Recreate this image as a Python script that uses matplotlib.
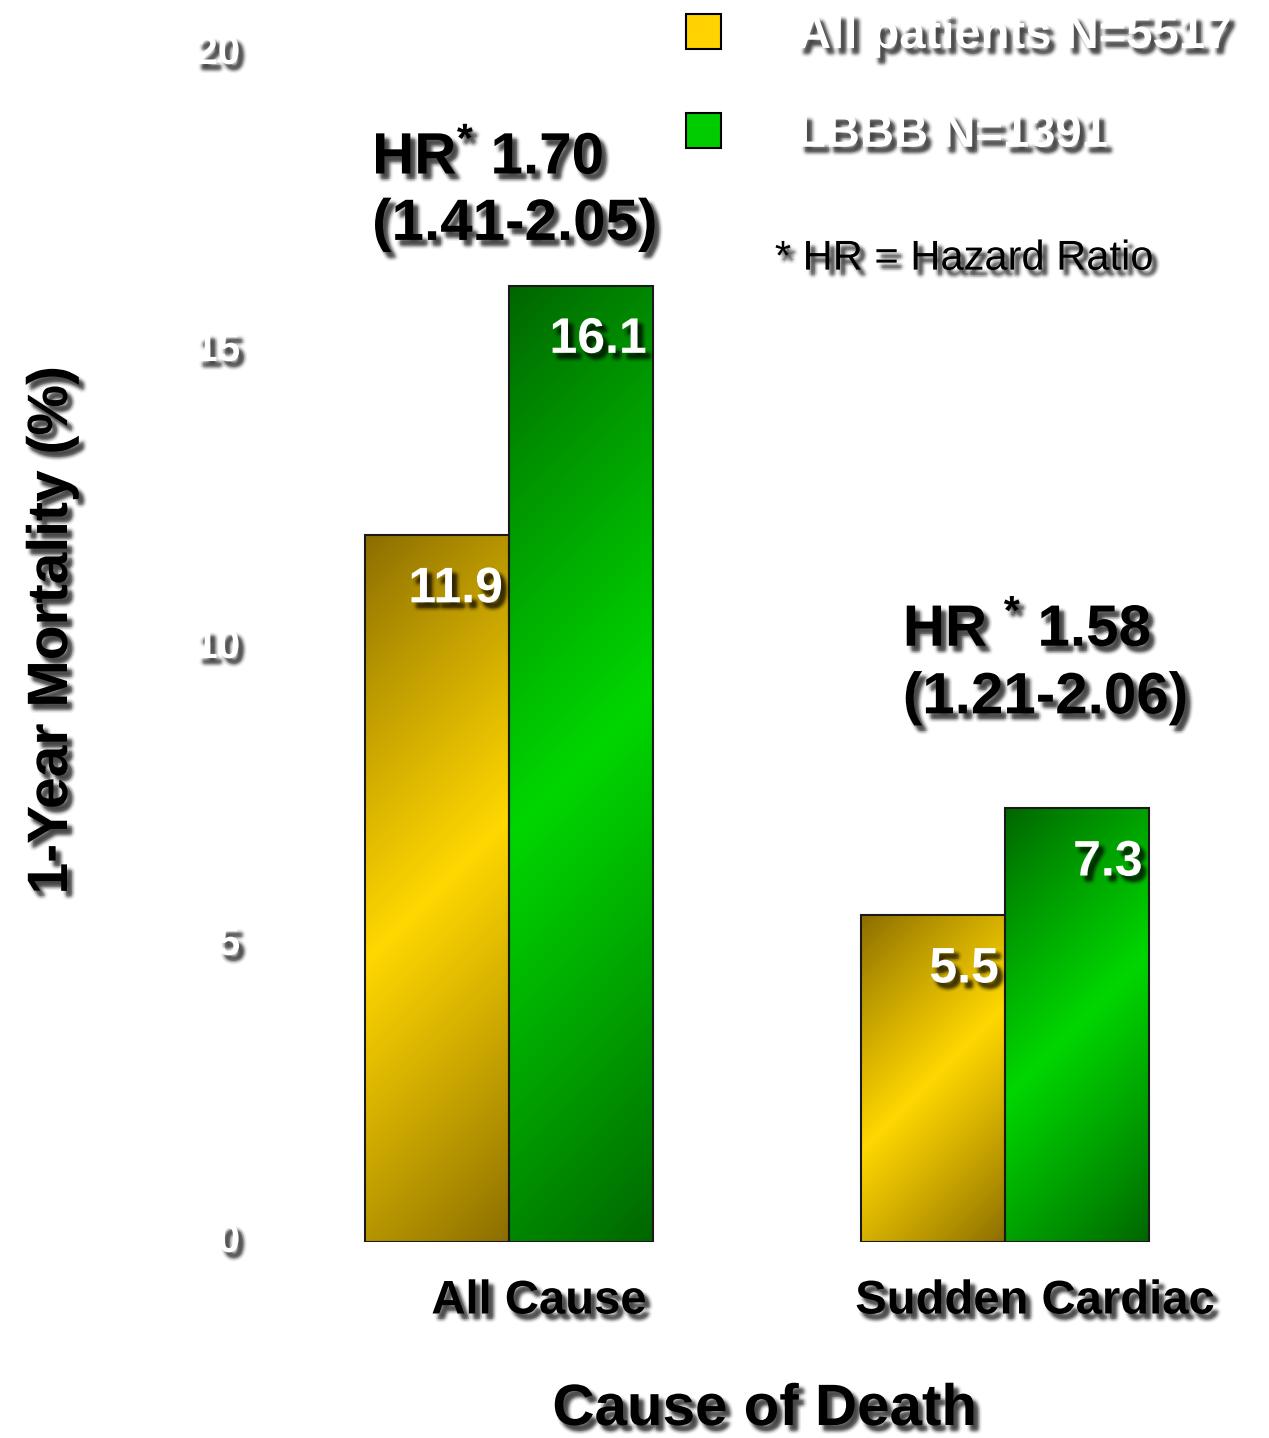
import numpy as np
import matplotlib
matplotlib.use("Agg")
import matplotlib.pyplot as plt
from matplotlib import patheffects as pe
from matplotlib.patches import Patch
from matplotlib.transforms import ScaledTranslation

# data
categories = ["All Cause", "Sudden Cardiac"]
all_patients = [11.9, 5.5]
lbbb = [16.1, 7.3]
series_labels = ["All patients N=5517", "LBBB N=1391"]
hr_line1 = ["HR$^{*}$ 1.70", "HR $^{*}$ 1.58"]
hr_line2 = ["(1.41-2.05)", "(1.21-2.06)"]
yticks = [0, 5, 10, 15, 20]

plt.rcParams["font.family"] = ["Liberation Sans", "DejaVu Sans"]
plt.rcParams["mathtext.fontset"] = "custom"
plt.rcParams["mathtext.rm"] = "Liberation Sans:bold"
plt.rcParams["mathtext.bf"] = "Liberation Sans:bold"
plt.rcParams["mathtext.it"] = "Liberation Sans:bold"


def shadow():
    # fake soft drop shadow: rings of faint offset copies plus a darker core
    fx = []
    cx, cy = 3.5, -4.0
    for r, n, a in [(2.6, 16, 0.025), (1.4, 12, 0.045)]:
        for ang in np.linspace(0, 2 * np.pi, n, endpoint=False):
            fx.append(pe.SimplePatchShadow(offset=(cx + r * np.cos(ang), cy + r * np.sin(ang)),
                                           shadow_rgbFace="k", alpha=a))
    fx.append(pe.SimplePatchShadow(offset=(cx, cy), shadow_rgbFace="k", alpha=0.25))
    fx.append(pe.Normal())
    return fx


def grad_fill(ax, bar, dark, bright):
    x0, y0 = bar.get_x(), bar.get_y()
    w, h = bar.get_width(), bar.get_height()
    p0 = ax.transData.transform((x0, y0))
    p1 = ax.transData.transform((x0 + w, y0 + h))
    wpx, hpx = p1 - p0
    X, Y = np.meshgrid(np.linspace(0, 1, 120), np.linspace(0, 1, 300))
    t = (X * wpx + (1 - Y) * hpx) / (wpx + hpx)
    f = (1 - np.abs(2 * t - 1)) ** 0.9
    dark = np.array(matplotlib.colors.to_rgb(dark))
    bright = np.array(matplotlib.colors.to_rgb(bright))
    rgb = dark + (bright - dark) * f[..., None]
    ax.imshow(rgb, extent=(x0, x0 + w, y0, y0 + h), origin="lower",
              aspect="auto", zorder=2, interpolation="bilinear")


fig = plt.figure(figsize=(12.69, 14.38), dpi=100)
ax = fig.add_axes([261 / 1269, 196 / 1438, 992 / 1269, 1188 / 1438])

x = np.arange(len(categories))
width = 0.29
bars_a = ax.bar(x - width / 2, all_patients, width, facecolor="none",
                edgecolor="#1a1a1a", linewidth=1.5, zorder=3)
bars_b = ax.bar(x + width / 2, lbbb, width, facecolor="none",
                edgecolor="#1a1a1a", linewidth=1.5, zorder=3)
ax.set_xlim(-0.5, 1.5)
ax.set_ylim(0, 20)
for b in bars_a:
    grad_fill(ax, b, "#8a6c00", "#ffd700")
for b in bars_b:
    grad_fill(ax, b, "#006400", "#00d600")
ax.set_xlim(-0.5, 1.5)
ax.set_ylim(0, 20)

for b in list(bars_a) + list(bars_b):
    v = b.get_height()
    ax.annotate(f"{v}", xy=(b.get_x() + b.get_width(), v), xytext=(-4.5, -39),
                textcoords="offset points", ha="right", va="center",
                fontsize=36, fontweight="bold", color="white",
                path_effects=shadow(), zorder=5)

for s in ax.spines.values():
    s.set_visible(False)

ax.set_yticks(yticks)
ax.tick_params(axis="y", length=0, pad=15)
for lab in ax.get_yticklabels():
    lab.set_fontsize(29)
    lab.set_fontweight("bold")
    lab.set_color("white")
    lab.set_path_effects(shadow())
    lab.set_transform(lab.get_transform() + ScaledTranslation(0, 0.05, fig.dpi_scale_trans))

ax.set_xticks(x, categories)
ax.tick_params(axis="x", length=0, pad=27)
for lab in ax.get_xticklabels():
    lab.set_fontsize(34)
    lab.set_fontweight("bold")
    lab.set_path_effects(shadow())
    lab.set_transform(lab.get_transform() + ScaledTranslation(0.30, 0, fig.dpi_scale_trans))

# hazard ratio annotations
hr_x = [-0.276, 0.794]
hr_y1 = [17.98, 10.03]
hr_y2 = [16.87, 8.90]
for i in range(len(categories)):
    ax.text(hr_x[i], hr_y1[i], hr_line1[i], fontsize=42, fontweight="bold",
            ha="left", va="baseline", path_effects=shadow())
    ax.text(hr_x[i], hr_y2[i], hr_line2[i], fontsize=42, fontweight="bold",
            ha="left", va="baseline", path_effects=shadow())

ax.text(0.536, 16.37, "* HR = Hazard Ratio", fontsize=30, ha="left",
        va="baseline", path_effects=shadow())

handles = [Patch(facecolor="#ffd200", edgecolor="k", linewidth=1.5),
           Patch(facecolor="#00cc00", edgecolor="k", linewidth=1.5)]
leg = ax.legend(handles, series_labels, loc="upper left",
                bbox_to_anchor=(686 / 1269, 1 - 14 / 1438), bbox_transform=fig.transFigure,
                frameon=False, prop=dict(weight="bold", size=34),
                handlelength=0.75, handleheight=0.75, handletextpad=1.6,
                labelspacing=1.16, borderpad=0, borderaxespad=0)
for t in leg.get_texts():
    t.set_color("white")
    t.set_path_effects(shadow())

fig.text(52 / 1269, 0.562, "1-Year Mortality (%)", rotation=90, ha="center", va="center",
         fontsize=41, fontweight="bold", path_effects=shadow())
fig.text(765 / 1269, 13 / 1438, "Cause of Death", ha="center", va="baseline",
         fontsize=42, fontweight="bold", path_effects=shadow())

fig.savefig("out.png", dpi=100, facecolor="white")
